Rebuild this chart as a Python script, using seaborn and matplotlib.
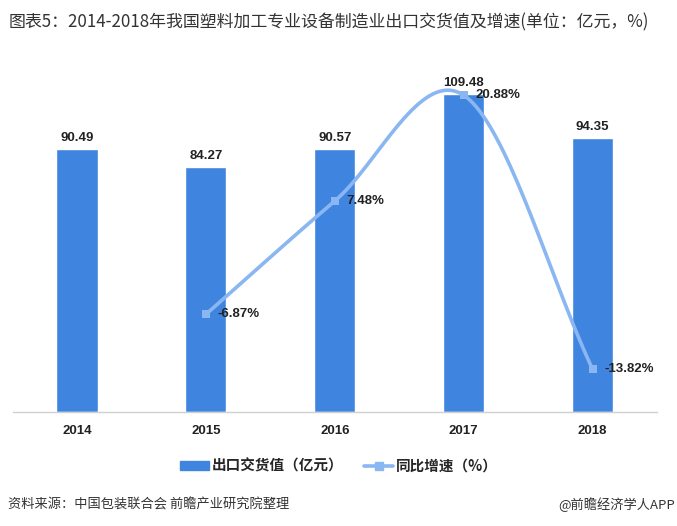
import numpy as np
import pandas as pd
import matplotlib
matplotlib.use("Agg")
import matplotlib.pyplot as plt
import seaborn as sns
from matplotlib.lines import Line2D
from matplotlib.patches import Patch

years = ["2014", "2015", "2016", "2017", "2018"]
export_value = [90.49, 84.27, 90.57, 109.48, 94.35]
growth = [None, -6.87, 7.48, 20.88, -13.82]

title = "图表5：2014-2018年我国塑料加工专业设备制造业出口交货值及增速(单位：亿元，%)"
legend_bar = "出口交货值（亿元）"
legend_line = "同比增速（%）"
source = "资料来源：中国包装联合会 前瞻产业研究院整理"
credit = "@前瞻经济学人APP"

sns.set_theme(style="white")
plt.rcParams['font.family'] = ['Noto Sans CJK SC', 'DejaVu Sans']

BAR_C = "#3F85E0"
LINE_C = "#8AB6F2"

fig = plt.figure(figsize=(6.77, 5.26), dpi=100)
ax = fig.add_axes([0.0185, 0.2167, 0.952, 0.669])

df = pd.DataFrame({"year": years, "value": export_value})
sns.barplot(data=df, x="year", y="value", color=BAR_C, saturation=1, width=0.32, ax=ax)
ax.set_xlim(-0.5, 4.5)
ax.set_ylim(0, 121.2)
for i, v in enumerate(export_value):
    ax.text(i, v + 1.9, f"{v:.2f}", ha="center", va="bottom", fontsize=9.5,
            fontweight="bold", family=["Liberation Sans"], color="#222222")

for s in ["top", "right", "left"]:
    ax.spines[s].set_visible(False)
ax.spines["bottom"].set_color("#D0D0D0")
ax.spines["bottom"].set_linewidth(1)
ax.set_yticks([])
ax.set_xlabel("")
ax.set_ylabel("")
ax.tick_params(axis="x", length=0, pad=9)
for lab in ax.get_xticklabels():
    lab.set_fontweight("bold")
    lab.set_fontsize(9.5)
    lab.set_family(["Liberation Sans"])
    lab.set_color("#222222")

ax2 = ax.twinx()
ax2.set_ylim(-19.24, 25.32)
ax2.axis("off")

gx = np.array([i for i, g in enumerate(growth) if g is not None], dtype=float)
gy = np.array([g for g in growth if g is not None], dtype=float)

# Catmull-Rom smoothing between the data points
px = np.concatenate([[2 * gx[0] - gx[1]], gx, [2 * gx[-1] - gx[-2]]])
py = np.concatenate([[2 * gy[0] - gy[1]], gy, [2 * gy[-1] - gy[-2]]])
sx, sy = [], []
t = np.linspace(0, 1, 40)
for k in range(1, len(px) - 2):
    p0, p1, p2, p3 = (np.array([px[j], py[j]]) for j in range(k - 1, k + 3))
    seg = 0.5 * ((2 * p1)[:, None] + (-p0 + p2)[:, None] * t +
                 (2 * p0 - 5 * p1 + 4 * p2 - p3)[:, None] * t ** 2 +
                 (-p0 + 3 * p1 - 3 * p2 + p3)[:, None] * t ** 3)
    sx.extend(seg[0]); sy.extend(seg[1])
ax2.plot(sx, sy, color=LINE_C, lw=2.6, solid_capstyle="round", zorder=3)
sns.scatterplot(x=gx, y=gy, marker="s", s=36, color=LINE_C, edgecolor=LINE_C,
                linewidth=0, ax=ax2, zorder=4, legend=False)
for x, y in zip(gx, gy):
    ax2.text(x + 0.09, y, f"{y:.2f}%", ha="left", va="center", fontsize=9.5,
             fontweight="bold", family=["Liberation Sans"], color="#222222", zorder=5)
ax2.set_xlim(-0.5, 4.5)

fig.text(0.012, 0.958, title, ha="left", va="center", fontsize=12.2, color="#333333")

handles = [Patch(facecolor=BAR_C, edgecolor=BAR_C),
           Line2D([0], [0], color=LINE_C, lw=2.6, marker="s", markersize=6)]
leg = fig.legend(handles, [legend_bar, legend_line], loc="center",
                 bbox_to_anchor=(0.501, 0.115), ncol=2, frameon=False,
                 prop={"family": ['Noto Sans CJK SC', 'DejaVu Sans'], "weight": "bold", "size": 10.5},
                 handlelength=2.0, handleheight=0.6, columnspacing=1.4, handletextpad=0.2)

fig.text(0.012, 0.040, source, ha="left", va="center", fontsize=9.5, color="#333333")
fig.text(0.997, 0.040, credit, ha="right", va="center", fontsize=9.5, color="#333333")

fig.savefig("out.png", dpi=100)
